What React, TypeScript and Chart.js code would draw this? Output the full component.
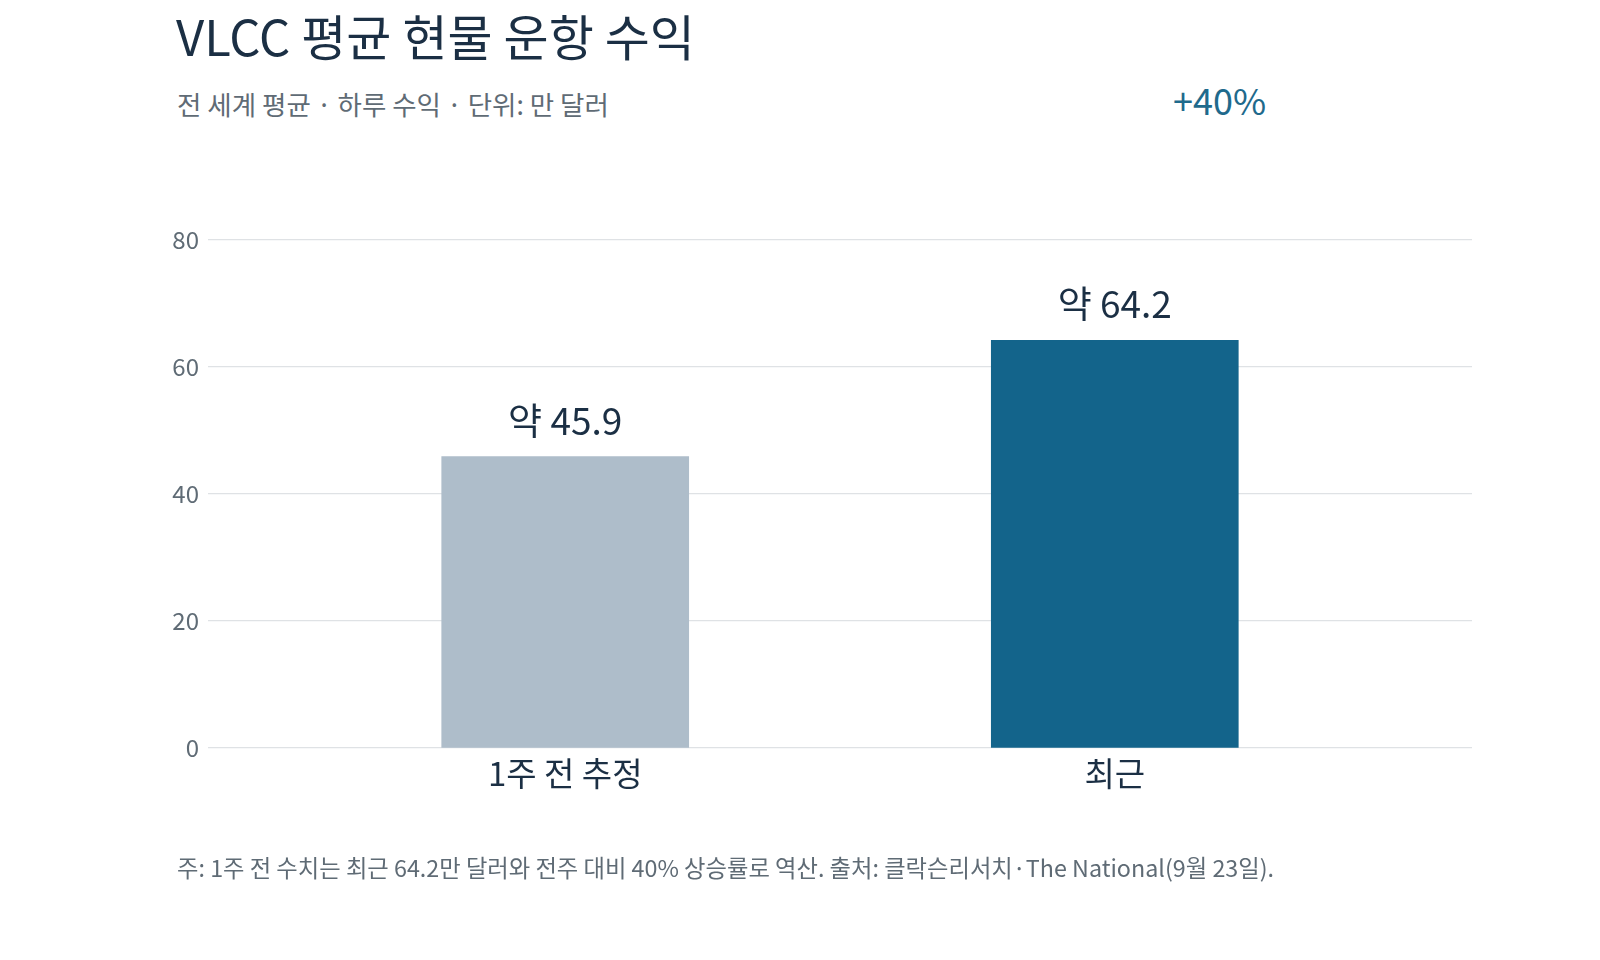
import { useEffect, useRef } from 'react';
import { Chart, registerables } from 'chart.js';

Chart.register(...registerables);

const categories = ['1주 전 추정', '최근'];
const values = [45.9, 64.2];
const valueLabels = ['약 45.9', '약 64.2'];
const barColors = ['#aebdca', '#13648b'];
const yTicks = [0, 20, 40, 60, 80];

const FONT = '"Noto Sans CJK KR", "Noto Sans", sans-serif';
const INK = '#1b2f44';
const MUTED = '#5f6b75';

const valueLabelPlugin = {
  id: 'valueLabels',
  afterDatasetsDraw(chart: Chart) {
    const { ctx } = chart;
    const meta = chart.getDatasetMeta(0);
    ctx.save();
    ctx.font = `400 37px ${FONT}`;
    ctx.fillStyle = INK;
    ctx.textAlign = 'center';
    ctx.textBaseline = 'alphabetic';
    meta.data.forEach((bar: any, i: number) => {
      ctx.fillText(valueLabels[i], bar.x, bar.y - 22);
    });
    ctx.restore();
  },
};

export default function App() {
  const canvasRef = useRef<HTMLCanvasElement>(null);
  const chartRef = useRef<Chart | null>(null);

  useEffect(() => {
    if (!canvasRef.current) return;
    chartRef.current?.destroy();

    chartRef.current = new Chart(canvasRef.current, {
      type: 'bar',
      data: {
        datasets: [{
          data: values.map((v, i) => ({ x: i, y: v })),
          backgroundColor: barColors,
          borderWidth: 0,
          barThickness: 247,
        }],
      },
      options: {
        responsive: false,
        animation: false,
        devicePixelRatio: 1,
        layout: { padding: { top: 240, right: 128, bottom: 152, left: 0 } },
        plugins: {
          legend: { display: false },
          tooltip: { enabled: false },
        },
        scales: {
          x: {
            type: 'linear',
            offset: false,
            min: -0.65,
            max: 1.65,
            afterBuildTicks: (scale: any) => {
              scale.ticks = categories.map((_, i) => ({ value: i }));
            },
            afterFit: (scale: any) => { scale.height = 60; },
            grid: { display: false, drawTicks: false },
            border: { display: false },
            ticks: {
              color: INK,
              font: { size: 33, family: FONT },
              padding: 6,
              callback: (v: any) => categories[Number(v)] ?? '',
            },
          },
          y: {
            min: 0,
            max: 80,
            afterBuildTicks: (scale: any) => {
              scale.ticks = yTicks.map(v => ({ value: v }));
            },
            afterFit: (scale: any) => { scale.width = 208; },
            grid: { color: '#dfe2e5', lineWidth: 1.2, drawTicks: false },
            border: { display: false },
            ticks: {
              color: MUTED,
              font: { size: 24, family: FONT },
              padding: 9,
            },
          },
        },
      },
      plugins: [valueLabelPlugin],
    });

    return () => {
      chartRef.current?.destroy();
      chartRef.current = null;
    };
  }, []);

  return (
    <div style={{ position: 'absolute', left: 0, top: 0, width: 1600, height: 960, background: '#fff', fontFamily: FONT }}>
      <div style={{ position: 'absolute', left: 176, top: 6, fontSize: 49, color: INK, lineHeight: 1.2, whiteSpace: 'nowrap' }}>
        VLCC 평균 현물 운항 수익
      </div>
      <div style={{ position: 'absolute', left: 177, top: 88, fontSize: 26.5, color: MUTED, lineHeight: 1.2, whiteSpace: 'nowrap' }}>
        전 세계 평균 · 하루 수익 · 단위: 만 달러
      </div>
      <div style={{ position: 'absolute', left: 1173, top: 78, fontSize: 36, color: '#1f6a8c', lineHeight: 1.2, whiteSpace: 'nowrap' }}>
        +40%
      </div>
      <canvas ref={canvasRef} width={1600} height={960} style={{ position: 'absolute', left: 0, top: 0 }} />
      <div style={{ position: 'absolute', left: 177, top: 854, fontSize: 23.3, color: MUTED, lineHeight: 1.2, whiteSpace: 'nowrap' }}>
        주: 1주 전 수치는 최근 64.2만 달러와 전주 대비 40% 상승률로 역산. 출처: 클락슨리서치·The National(9월 23일).
      </div>
    </div>
  );
}
